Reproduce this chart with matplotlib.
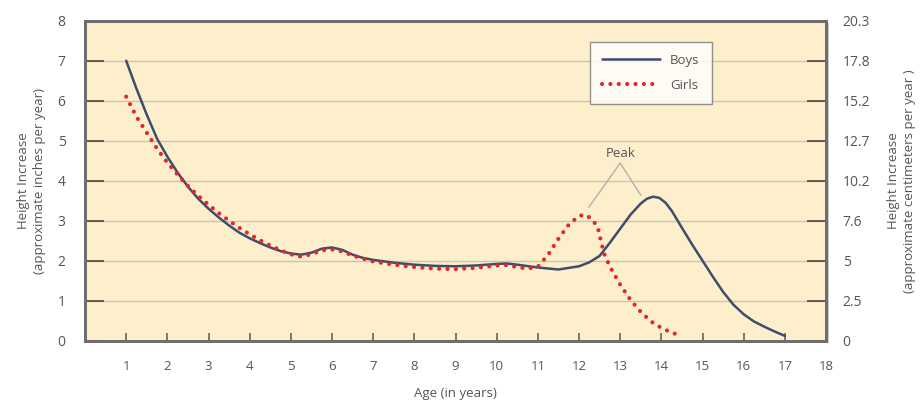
import numpy as np
import matplotlib.pyplot as plt
import matplotlib.patheffects as pe

plt.rcParams['font.family'] = ['Open Sans', 'DejaVu Sans']

# values (age in years, inches per year)
boys_age = [1.0, 1.25, 1.5, 1.75, 2.0, 2.25, 2.5, 2.75, 3.0, 3.25, 3.5, 3.75,
            4.0, 4.25, 4.5, 4.75, 5.0, 5.25, 5.5, 5.75, 6.0, 6.25, 6.5, 6.75,
            7.0, 7.5, 8.0, 8.5, 9.0, 9.5, 10.0, 10.25, 10.5, 11.0, 11.5, 12.0,
            12.25, 12.5, 12.75, 13.0, 13.25, 13.5, 13.65, 13.8, 13.95, 14.1,
            14.25, 14.5, 14.75, 15.0, 15.25, 15.5, 15.75, 16.0, 16.25, 16.5,
            16.75, 17.0]
boys_inc = [7.0, 6.3, 5.65, 5.05, 4.6, 4.2, 3.85, 3.55, 3.3, 3.08, 2.88, 2.7,
            2.56, 2.44, 2.33, 2.24, 2.18, 2.15, 2.2, 2.3, 2.33, 2.27, 2.15, 2.07,
            2.02, 1.95, 1.9, 1.87, 1.86, 1.88, 1.92, 1.93, 1.9, 1.83, 1.78, 1.86,
            1.96, 2.12, 2.45, 2.8, 3.15, 3.43, 3.55, 3.6, 3.57, 3.45,
            3.25, 2.82, 2.4, 2.0, 1.6, 1.22, 0.9, 0.66, 0.48, 0.35,
            0.23, 0.12]

girls_age = [1.0, 1.25, 1.5, 1.75, 2.0, 2.25, 2.5, 2.75, 3.0, 3.25, 3.5, 3.75,
             4.0, 4.25, 4.5, 4.75, 5.0, 5.25, 5.5, 5.75, 6.0, 6.25, 6.5, 6.75,
             7.0, 7.5, 8.0, 8.5, 9.0, 9.5, 10.0, 10.25, 10.5, 10.75, 11.0,
             11.25, 11.5, 11.75, 12.0, 12.15, 12.3, 12.45, 12.6, 12.75, 13.0,
             13.25, 13.5, 13.75, 14.0, 14.25, 14.5]
girls_inc = [6.1, 5.6, 5.2, 4.8, 4.45, 4.15, 3.87, 3.62, 3.4, 3.19, 3.0, 2.82,
             2.66, 2.51, 2.38, 2.26, 2.16, 2.1, 2.16, 2.26, 2.28, 2.23, 2.13, 2.05,
             1.98, 1.9, 1.84, 1.8, 1.79, 1.82, 1.88, 1.89, 1.84, 1.8, 1.85,
             2.15, 2.55, 2.9, 3.12, 3.15, 3.05, 2.85, 2.2, 1.85, 1.4,
             1.02, 0.72, 0.48, 0.32, 0.2, 0.12]

x_ticks = list(range(1, 19))
y_ticks = list(range(0, 9))
cm_labels = ['0', '2.5', '5', '7.6', '10.2', '12.7', '15.2', '17.8', '20.3']

bg = '#fdefcc'
spine_col = '#6e6e6e'
text_col = '#555555'

fig = plt.figure(figsize=(9.24, 4.04), dpi=100)
ax = fig.add_axes([0.092, 0.1567, 0.802, 0.7921])
ax.set_facecolor(bg)
ax.patch.set_path_effects([pe.withSimplePatchShadow(offset=(2, -2), shadow_rgbFace='#999999', alpha=0.5)])

ax.set_xlim(0, 18)
ax.set_ylim(0, 8)
for y in y_ticks[1:-1]:
    ax.axhline(y, color='#c9c5b6', lw=1, zorder=1)

ax.plot(boys_age, boys_inc, color='#3e4d6b', lw=1.8, label='Boys', zorder=3,
        solid_capstyle='round', solid_joinstyle='round')
ax.plot(girls_age, girls_inc, color='#e3262b', lw=3.0, label='Girls', zorder=4,
        linestyle=(0, (0.01, 2.0)), dash_capstyle='round')

# Peak annotation
ax.plot([12.24, 13.0, 13.5], [3.34, 4.44, 3.64], color='#b0b0b0', lw=1, zorder=2)
ax.text(13.0, 4.52, 'Peak', ha='center', va='bottom', fontsize=9.5, color=text_col)

ax.set_xticks(x_ticks)
ax.set_yticks(y_ticks)
ax.tick_params(axis='x', direction='in', length=6, width=1.3, color=spine_col,
               labelsize=9.5, labelcolor=text_col, pad=14)
ax.tick_params(axis='y', direction='in', length=14, width=1.3, color='#5a5040',
               labelsize=10, labelcolor=text_col, pad=14)
for s in ax.spines.values():
    s.set_color(spine_col)
    s.set_linewidth(2)

ax.set_xlabel('Age (in years)', fontsize=9.5, color=text_col, labelpad=10)
ax.set_ylabel('Height Increase\n(approximate inches per year)', fontsize=9.5,
              color=text_col, labelpad=8, linespacing=1.3)

ax2 = ax.twinx()
ax2.set_ylim(0, 8)
ax2.set_yticks(y_ticks)
ax2.set_yticklabels(cm_labels)
ax2.tick_params(axis='y', direction='in', length=14, width=1.3, color='#5a5040',
                labelsize=10, labelcolor=text_col, pad=12)
for s in ax2.spines.values():
    s.set_color(spine_col)
    s.set_linewidth(2)
ax2.set_ylabel('Height Increase\n(approximate centimeters per year )', fontsize=9.5,
               color=text_col, labelpad=12, linespacing=1.3)

leg = ax.legend(loc='upper left', bbox_to_anchor=(0.681, 0.933), frameon=True,
                fancybox=False, fontsize=9.5, handlelength=4.4,
                borderpad=0.9, labelspacing=0.9, borderaxespad=0)
leg.get_frame().set_edgecolor('#777777')
leg.get_frame().set_linewidth(1)
for t in leg.get_texts():
    t.set_color(text_col)

fig.savefig('out.png', dpi=100)
